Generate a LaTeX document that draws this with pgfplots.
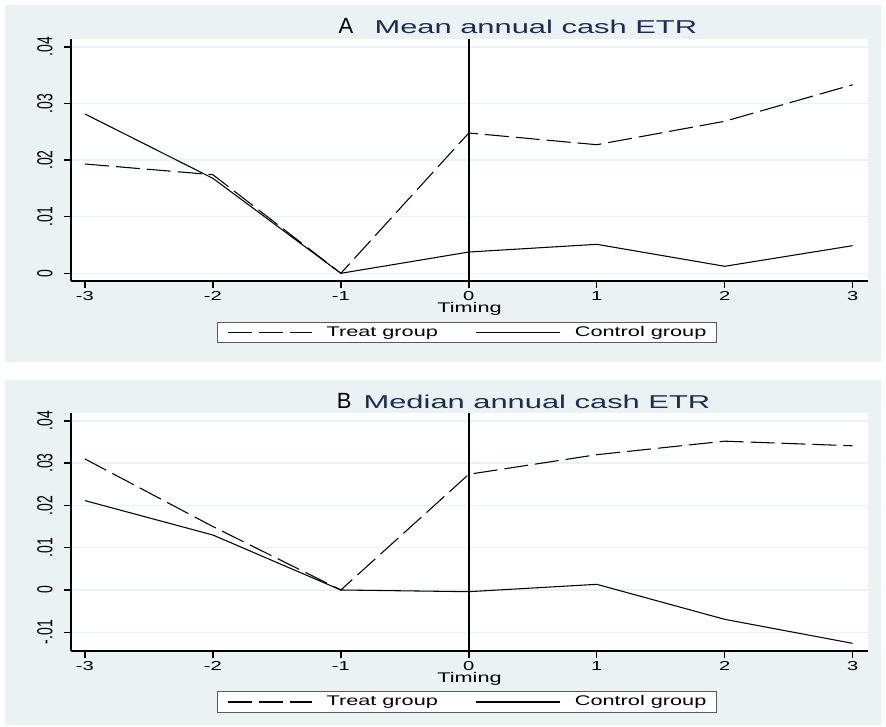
\documentclass[border=0pt]{standalone}
\usepackage{fontspec}
\setmainfont{Liberation Sans}[FakeStretch=1.55]
\newfontfamily\plainfont{Liberation Sans}
\newfontfamily\titlefont{Liberation Sans}[FakeStretch=1.66]
\usepackage{pgfplots}
\usepackage{pgfplotstable}
\usepackage{graphicx}
\pgfplotsset{compat=1.18}
\definecolor{bg}{RGB}{234,242,243}
\definecolor{ttl}{RGB}{30,42,88}

\pgfplotstableread{
t treat control
-3 0.01931 0.02815
-2 0.01742 0.01678
-1 0 0
0 0.02479 0.00376
1 0.02272 0.00512
2 0.02686 0.00124
3 0.03332 0.00488
}\meanA
\pgfplotstableread{
t treat control
-3 0.0310 0.02114
-2 0.0150 0.0130
-1 0 0
0 0.02737 -0.0004
1 0.0320 0.00134
2 0.0352 -0.00694
3 0.0341 -0.01262
}\medB

\newcommand{\yl}[1]{\plainfont\fontsize{10.5}{11}\selectfont\scalebox{1}[1.55]{#1}}

\pgfplotsset{
 etr/.style={
  scale only axis, width=597.75pt, anchor=south west,
  xmin=-3.109, xmax=3.12,
  axis background/.style={fill=white},
  axis x line=bottom, axis y line=left,
  axis line style={-, line width=1.4pt, black},
  every outer x axis line/.append style={-},
  every outer y axis line/.append style={-},
  scaled y ticks=false,
  tick align=outside, major tick length=4.9pt,
  tick style={black, line width=1.1pt},
  xtick={-3,-2,-1,0,1,2,3},
  xticklabels={-3,-2,-1,0,1,2,3},
  xticklabel style={font=\fontsize{9.75}{10}\selectfont, anchor=base, yshift=-9.6pt},
  yticklabel style={xshift=-9pt, rotate=90, anchor=base},
  ymajorgrids, major grid style={bg, line width=1.1pt},
  xlabel={Timing},
  xlabel style={anchor=base, font=\fontsize{10.5}{12}\selectfont, inner sep=0pt},
  legend columns=2,
  legend style={at={(0.1832,-0.168)}, anchor=north west,
    draw=black!65, line width=0.75pt, fill=white,
    font=\fontsize{10.5}{12}\selectfont,
    inner xsep=7.3pt, inner ysep=3.2pt,
    nodes={inner sep=0pt},
    /tikz/column sep=10.2pt,
    /tikz/every even column/.append style={column sep=28.2pt}},
  legend cell align=left,
  legend image code/.code={\draw[##1, line width=1.3pt] (0pt,0pt) -- (63pt,0pt);},
 },
 treat/.style={black, line width=0.8pt, dash pattern=on 18pt off 5.25pt},
 ctrl/.style={black, line width=0.8pt},
}

\begin{document}
\begin{tikzpicture}
\useasboundingbox[fill=white] (0pt,0pt) rectangle (664.5pt,544.5pt);
\fill[bg] (3.75pt,273pt) rectangle (660.75pt,540.75pt);
\fill[bg] (3.75pt,0.75pt) rectangle (660.75pt,259.5pt);

\node[anchor=base west, inner sep=0pt, font=\plainfont\fontsize{16.5}{17}\selectfont] at (253.7pt,519pt) {A};
\node[anchor=base west, inner sep=0pt, text=ttl, font=\titlefont\fontsize{13.95}{15}\selectfont] at (280.7pt,519pt) {Mean annual cash ETR};
\node[anchor=base west, inner sep=0pt, font=\plainfont\fontsize{16.5}{17}\selectfont] at (252.5pt,238.3pt) {B};
\node[anchor=base west, inner sep=0pt, text=ttl, font=\titlefont\fontsize{13.95}{15}\selectfont] at (272.5pt,238.3pt) {Median annual cash ETR};

\begin{axis}[etr, at={(53.25pt,333.75pt)}, height=181.5pt,
  ymin=-0.00136, ymax=0.0414,
  ytick={0,0.01,0.02,0.03,0.04},
  yticklabels={\yl{0},\yl{.01},\yl{.02},\yl{.03},\yl{.04}},
  xlabel style={at={(axis description cs:0.5,-0.132)}}]
\addplot[black, line width=1.4pt, forget plot] coordinates {(0,-0.00136) (0,0.0414)};
\addplot[treat] table[x=t, y=treat] {\meanA};
\addlegendentry{Treat group}
\addplot[ctrl] table[x=t, y=control] {\meanA};
\addlegendentry{Control group}
\end{axis}

\begin{axis}[etr, at={(53.25pt,56.25pt)}, height=178.3pt,
  ymin=-0.01443, ymax=0.0418,
  ytick={-0.01,0,0.01,0.02,0.03,0.04},
  yticklabels={\yl{-.01},\yl{0},\yl{.01},\yl{.02},\yl{.03},\yl{.04}},
  xlabel style={at={(axis description cs:0.5,-0.133)}}]
\addplot[black, line width=1.4pt, forget plot] coordinates {(0,-0.01443) (0,0.0418)};
\addplot[treat] table[x=t, y=treat] {\medB};
\addlegendentry{Treat group}
\addplot[ctrl] table[x=t, y=control] {\medB};
\addlegendentry{Control group}
\end{axis}
\end{tikzpicture}
\end{document}
